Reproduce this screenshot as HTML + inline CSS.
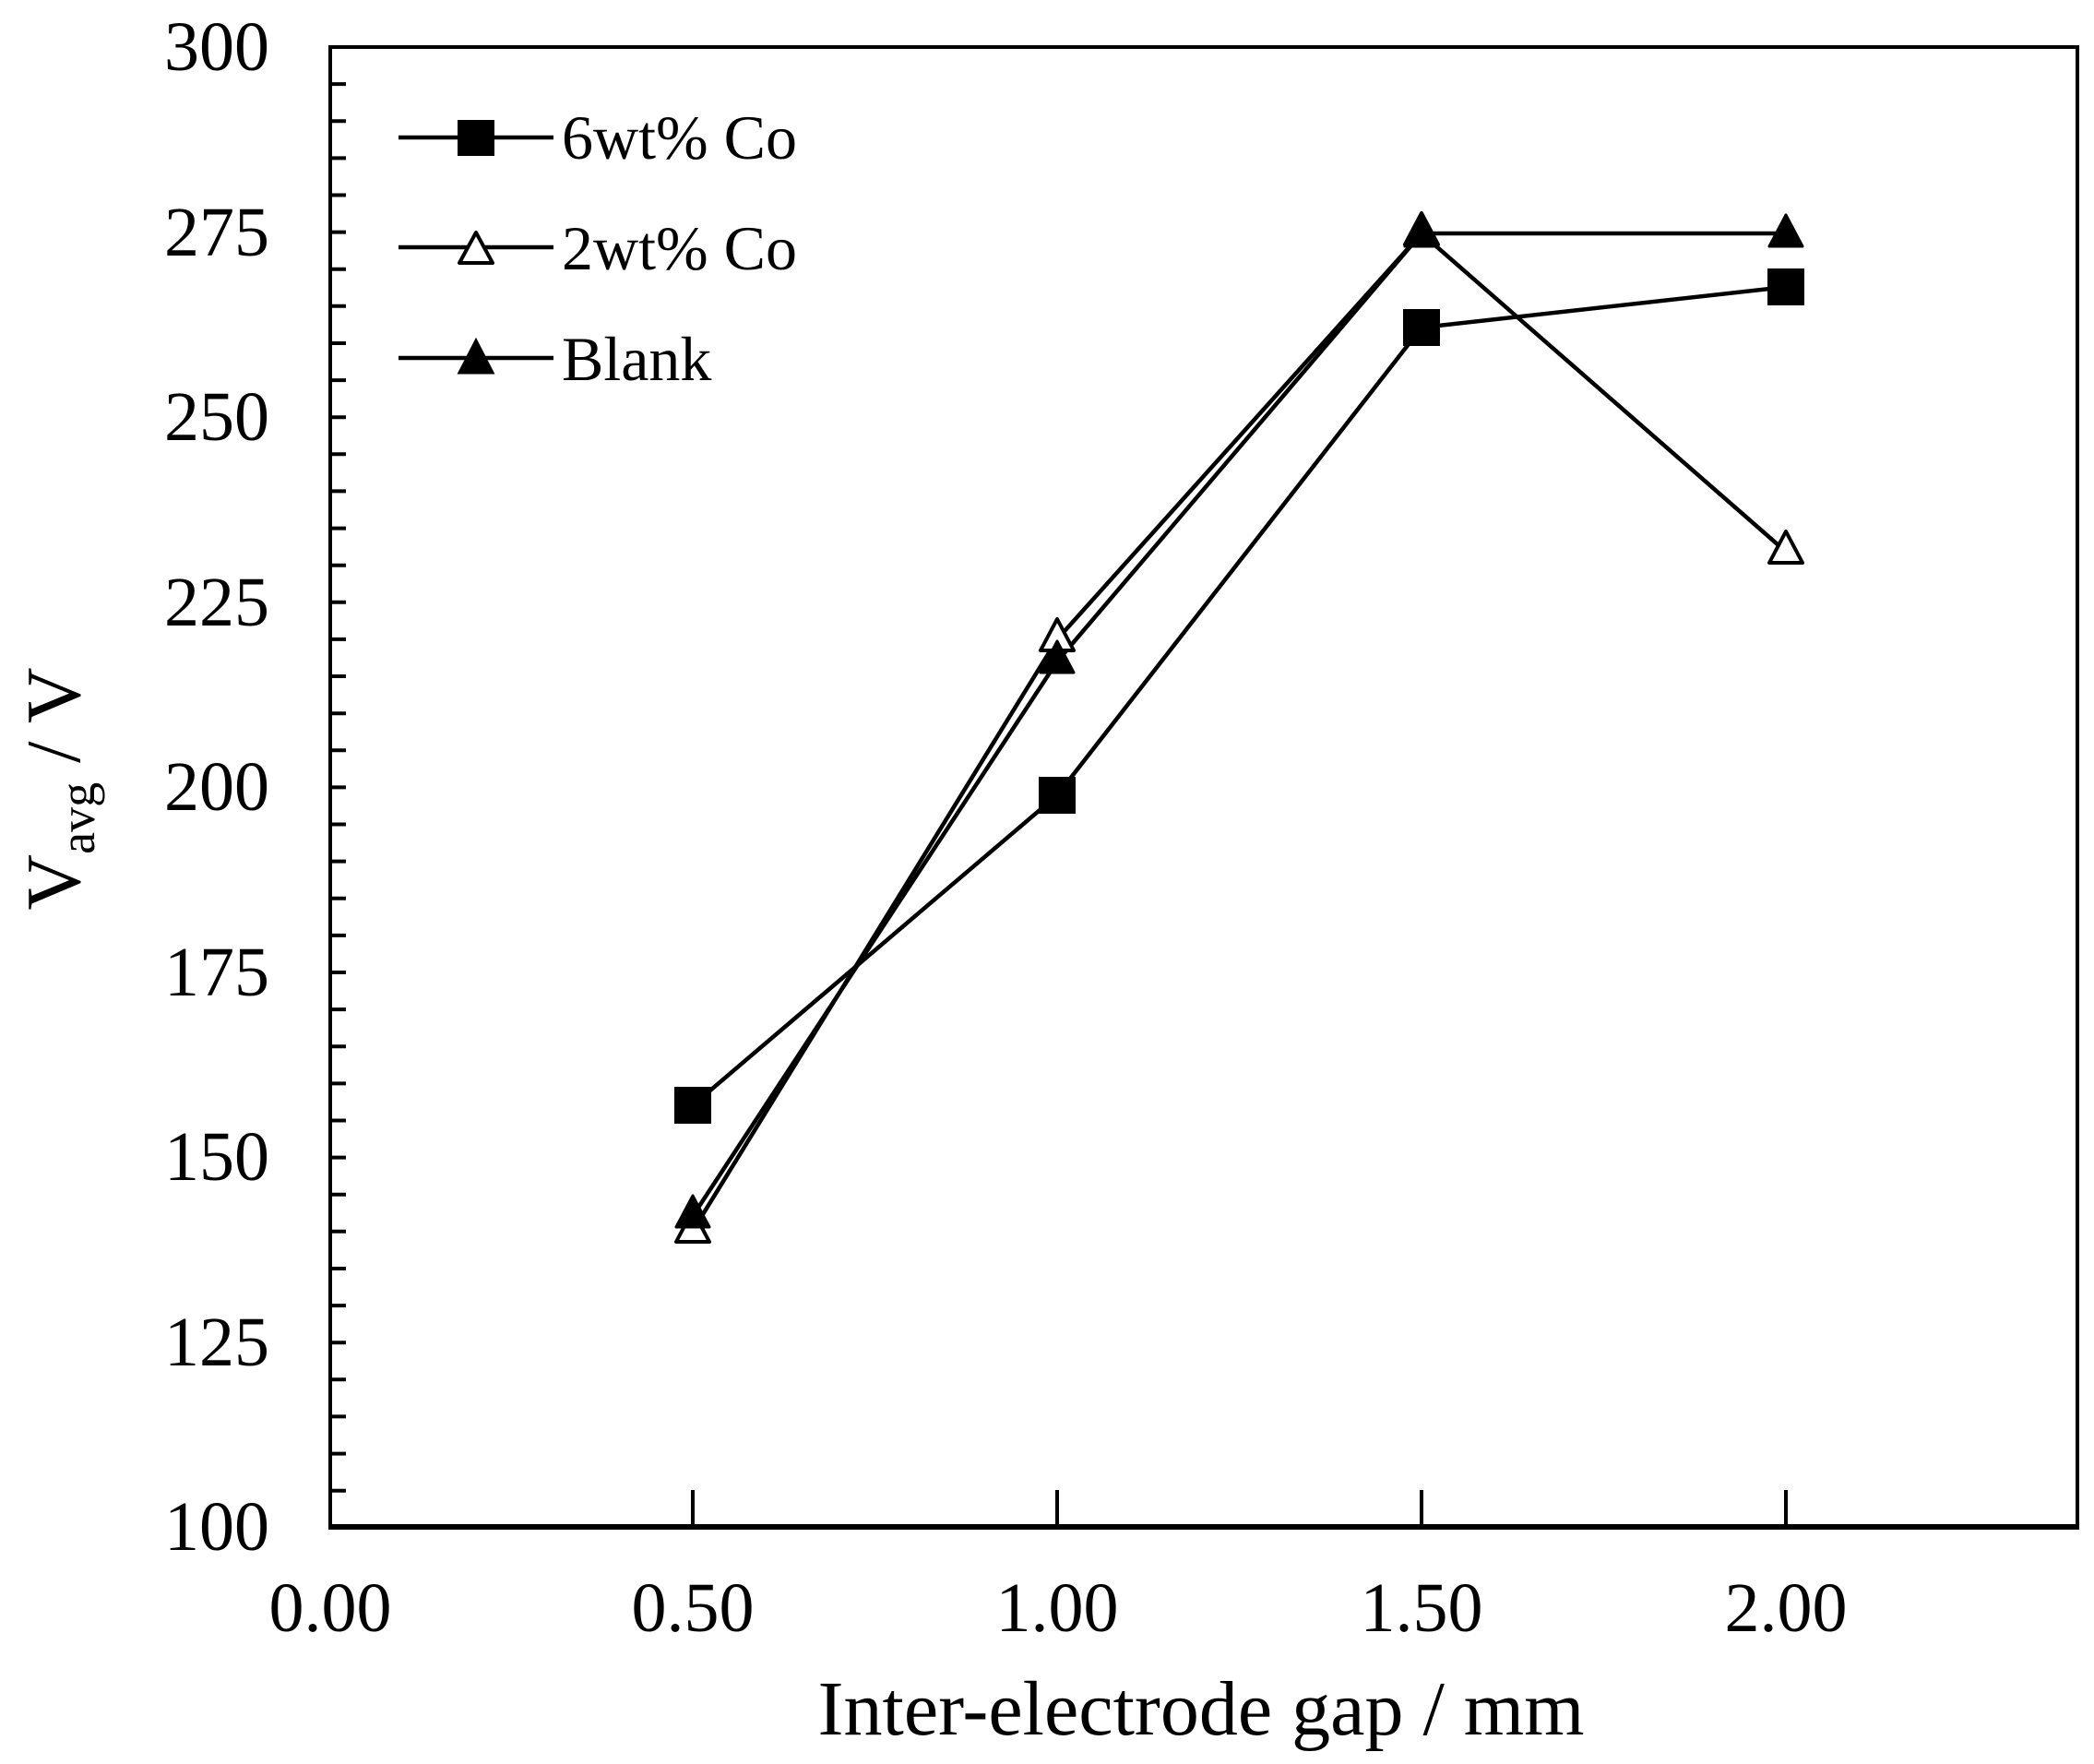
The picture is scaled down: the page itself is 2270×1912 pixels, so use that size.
<!DOCTYPE html>
<html><head><meta charset="utf-8"><style>
html,body{margin:0;padding:0;background:#fff;}
svg{display:block;}
text{font-family:"Liberation Serif",serif;fill:#000;}
</style></head><body>
<svg width="2270" height="1912" viewBox="0 0 2270 1912" xmlns="http://www.w3.org/2000/svg">
<line x1="358" y1="51" x2="2252" y2="51" stroke="#000" stroke-width="4"/>
<line x1="2252" y1="49" x2="2252" y2="1658" stroke="#000" stroke-width="4"/>
<line x1="358" y1="49" x2="358" y2="1658" stroke="#000" stroke-width="4"/>
<line x1="356" y1="1655" x2="2254" y2="1655" stroke="#000" stroke-width="6"/>
<g stroke="#000" stroke-width="4">
<path d="M358 91.1h17M358 131.2h17M358 171.4h17M358 211.5h17M358 251.6h17M358 291.7h17M358 331.8h17M358 372h17M358 412.1h17M358 452.2h17M358 492.3h17M358 532.4h17M358 572.6h17M358 612.7h17M358 652.8h17M358 692.9h17M358 733h17M358 773.2h17M358 813.3h17M358 853.4h17M358 893.5h17M358 933.6h17M358 973.8h17M358 1013.9h17M358 1054h17M358 1094.1h17M358 1134.2h17M358 1174.4h17M358 1214.5h17M358 1254.6h17M358 1294.7h17M358 1334.8h17M358 1375h17M358 1415.1h17M358 1455.2h17M358 1495.3h17M358 1535.4h17M358 1575.6h17M358 1615.7h17"/>
<path d="M751 1655v-40M1146 1655v-40M1541 1655v-40M1936 1655v-40"/>
</g>
<g font-size="76" text-anchor="end">
<text x="292" y="76">300</text>
<text x="292" y="277">275</text>
<text x="292" y="477">250</text>
<text x="292" y="678">225</text>
<text x="292" y="878">200</text>
<text x="292" y="1079">175</text>
<text x="292" y="1279">150</text>
<text x="292" y="1480">125</text>
<text x="292" y="1680">100</text>
</g>
<g font-size="76" text-anchor="middle">
<text x="358" y="1768">0.00</text>
<text x="751" y="1768">0.50</text>
<text x="1146" y="1768">1.00</text>
<text x="1541" y="1768">1.50</text>
<text x="1936" y="1768">2.00</text>
</g>
<text x="1302" y="1880" font-size="84" text-anchor="middle">Inter-electrode gap / mm</text>
<text transform="translate(86,855) rotate(-90)" font-size="84" text-anchor="middle">V<tspan font-size="54" dy="16">avg</tspan><tspan dy="-16"> / V</tspan></text>
<g fill="none" stroke="#000" stroke-width="4.5">
<polyline points="751,1198 1146,862 1541,355 1936,311"/>
<polyline points="751,1334 1146,693 1541,253 1936,598"/>
<polyline points="751,1318 1146,717 1541,253 1936,253"/>
</g>
<g fill="#000">
<rect x="731" y="1178" width="40" height="40"/>
<rect x="1126" y="842" width="40" height="40"/>
<rect x="1521" y="335" width="40" height="40"/>
<rect x="1916" y="291" width="40" height="40"/>
</g>
<g fill="#fff" stroke="#000" stroke-width="4" stroke-linejoin="round">
<polygon points="751,1312 733,1346 769,1346"/>
<polygon points="1146,671 1128,705 1164,705"/>
<polygon points="1541,231 1523,265 1559,265"/>
<polygon points="1936,576 1918,610 1954,610"/>
</g>
<g fill="#000" stroke="#000" stroke-width="3" stroke-linejoin="round">
<polygon points="751,1296 733,1330 769,1330"/>
<polygon points="1146,695 1128,729 1164,729"/>
<polygon points="1541,233 1523,267 1559,267"/>
<polygon points="1936,233 1918,267 1954,267"/>
</g>
<g stroke="#000" stroke-width="4.5">
<line x1="432" y1="149" x2="600" y2="149"/>
<line x1="432" y1="268" x2="600" y2="268"/>
<line x1="432" y1="388" x2="600" y2="388"/>
</g>
<rect x="496" y="130" width="40" height="39" fill="#000"/>
<polygon points="516,252 498,285 534,285" fill="#fff" stroke="#000" stroke-width="4" stroke-linejoin="round"/>
<polygon points="516,369 498,404 534,404" fill="#000" stroke="#000" stroke-width="3"/>
<g font-size="68">
<text x="609" y="172">6wt% Co</text>
<text x="609" y="292">2wt% Co</text>
<text x="609" y="412">Blank</text>
</g>
</svg>
</body></html>
